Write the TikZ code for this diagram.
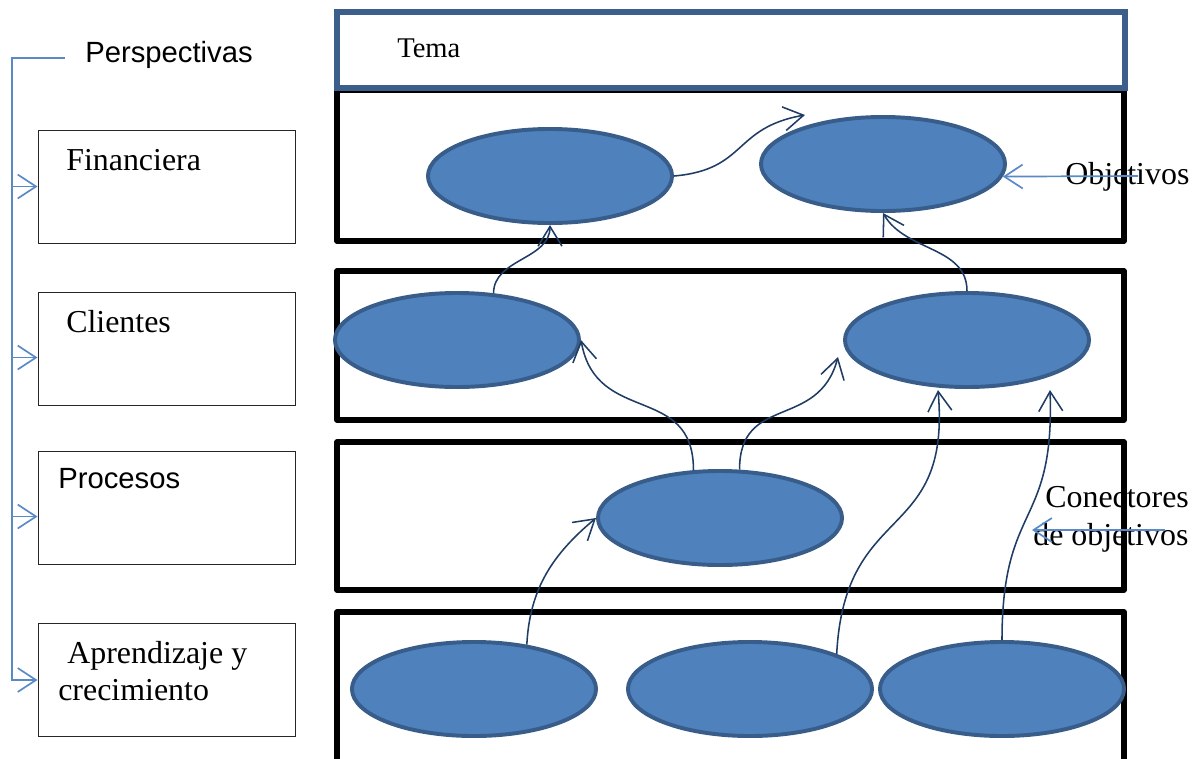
\documentclass[tikz,border=0pt]{standalone}
\usepackage{fontspec}
\setmainfont{Liberation Serif}
\setsansfont{Liberation Sans}
\usetikzlibrary{shapes.geometric,arrows.meta}
\definecolor{ovalfill}{HTML}{4F81BD}
\definecolor{ovalline}{HTML}{385D8A}
\definecolor{linknavy}{HTML}{1F3C64}
\definecolor{pblue}{HTML}{5A8AC6}
\definecolor{temaline}{HTML}{3B5E8A}

\begin{document}
\begin{tikzpicture}[x=0.025cm,y=0.025cm,
  oval/.style={ellipse,draw=ovalline,fill=ovalfill,line width=2.8pt,inner sep=0pt,minimum width=6.1cm,minimum height=2.35cm},
  pbox/.style={draw=black!85,line width=0.6pt,inner sep=0pt,minimum width=6.425cm,minimum height=2.825cm},
  row/.style={line width=4pt,line join=round},
  txt/.style={anchor=base west,inner sep=0pt,font=\fontsize{22.7}{27}\selectfont},
  txtsf/.style={txt,font=\sffamily\fontsize{20.8}{25}\selectfont},
  link/.style={draw=linknavy,line width=1.1pt,-{Straight Barb[length=14pt,width=17pt]}},
  plink/.style={draw=pblue,line width=1.2pt,-{Straight Barb[length=13pt,width=17pt]}}]
\path[use as bounding box] (0,0) rectangle (1199,-758);
% perspectives on the left
\node[pbox] (fin) at (166.5,-186.5) {};
\node[pbox] (cli) at (166.5,-348.5) {};
\node[pbox] (pro) at (166.5,-507.5) {};
\node[pbox] (apr) at (166.5,-680) {};
\node[txtsf] (persp) at (85,-62) {Perspectivas};
\node[txt] (finT) at (66,-170) {Financiera};
\node[txt] (cliT) at (66,-332) {Clientes};
\node[txtsf] (proT) at (58,-488) {Procesos};
\node[txt] (aprT) at (67,-663) {Aprendizaje y};
\node[txt] (aprU) at (58,-700) {crecimiento};
% labels on the right
\node[txt,font=\fontsize{20.3}{24}\selectfont] (tema) at (397,-57) {Tema};
\node[txt] (objT) at (1065,-184) {Objetivos};
\node[txt] (conT) at (1045,-507) {Conectores};
\node[txt] (conU) at (1033,-545) {de objetivos};
% rows
\draw[row] (337,-90) rectangle (1124,-241);
\draw[row] (337,-271) rectangle (1124,-420);
\draw[row] (337,-442) rectangle (1124,-590);
\draw[row] (337,-760) -- (337,-612) -- (1124,-612) -- (1124,-760);
\draw[draw=temaline,line width=3.6pt] (337,-12) rectangle (1125,-88);
% objectives
\node[oval] (fin1) at (550,-176) {};
\node[oval] (fin2) at (883,-164) {};
\node[oval] (cli1) at (457,-340) {};
\node[oval] (cli2) at (967,-340) {};
\node[oval] (pro1) at (720,-518) {};
\node[oval] (apr1) at (474,-689) {};
\node[oval] (apr2) at (750,-689) {};
\node[oval] (apr3) at (1002,-689) {};
\coordinate (tipA) at (805,-115);
\coordinate (tipB) at (838,-357);
\coordinate (tipC) at (938,-390);
\coordinate (tipD) at (1050,-390);
\draw[link] (fin1.east) to[out=5,in=190,looseness=1.3] (tipA);
\draw[link] (cli1.52) to[out=90,in=-90] (fin1.south);
\draw[link] (cli2.north) to[out=90,in=-60] (fin2.south);
\draw[link] (pro1.119) to[out=90,in=-80,looseness=1.3] (cli1.east);
\draw[link] (pro1.68) to[out=90,in=-105,looseness=1.3] (tipB);
\draw[link] (apr1.40) to[out=87,in=-140] (pro1.west);
\draw[link] (apr2.22) to[out=87,in=-85,looseness=1.4] (tipC);
\draw[link] (apr3.north) to[out=90,in=-88,looseness=1.4] (tipD);
% blue pointers
\coordinate (pTop) at (65,-58);
\coordinate (brk) at (12,-58);
\draw[plink] (pTop) -- (brk) -- (brk |- apr.west) -- (apr.west);
\draw[plink] (fin.west -| brk) -- (fin.west);
\draw[plink] (cli.184 -| brk) -- (cli.184);
\draw[plink] (pro.184 -| brk) -- (pro.184);
\coordinate (objS) at (1138,-176);
\draw[plink] (objS) -- (fin2.-6);
\coordinate (conS) at (1165,-530);
\coordinate (conE) at (1032,-530);
\draw[plink] (conS) -- (conE);
\end{tikzpicture}
\end{document}
